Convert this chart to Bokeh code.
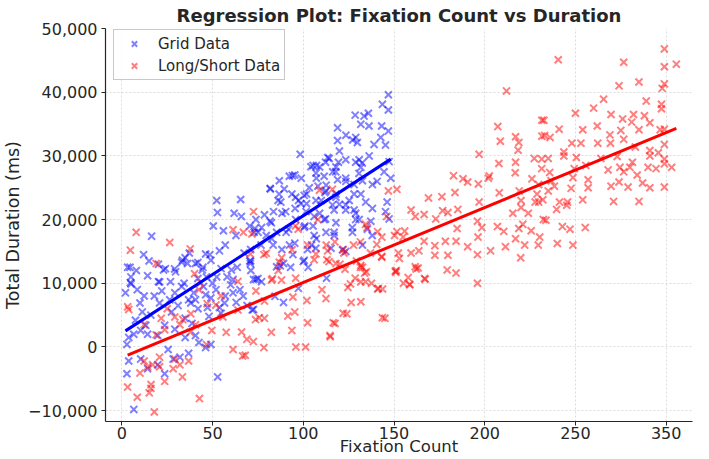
import numpy as np
from bokeh.plotting import figure
from bokeh.models import Range1d, FixedTicker, CustomJSTickFormatter
from bokeh.embed import file_html
from bokeh.resources import INLINE

# Grid condition: fixation count vs total duration (ms)
grid_count = [
    4.5, 5.1, 16.4, 20.2, 23.0, 29.1, 33.4, 37.2, 36.2, 41.9,
    44.7, 48.5, 52.3, 52.7, 50.4, 56.0, 57.0, 65.5, 65.9, 61.9,
    62.9, 70.5, 73.3, 75.1, 77.0, 67.4, 63.6, 71.1, 70.5, 75.0,
    77.0, 60.0, 52.3, 46.6, 41.9, 34.3, 26.8, 20.2, 82.6, 81.7,
    83.6, 88.3, 86.1, 86.8, 81.7, 93.7, 94.0, 98.3, 98.9, 97.4,
    95.5, 101.8, 101.8, 100.9, 90.5, 92.4, 94.3, 87.3, 93.0, 100.0,
    104.5, 107.2, 105.4, 109.0, 112.3, 109.9, 108.1, 107.2, 109.0, 112.3,
    105.4, 118.0, 113.5, 118.9, 118.0, 117.0, 119.9, 118.0, 117.0, 121.6,
    127.0, 128.9, 128.0, 125.3, 128.0, 123.5, 130.7, 119.9, 118.9, 123.5,
    127.2, 129.8, 128.6, 133.5, 128.9, 132.5, 116.2, 112.6, 111.9, 102.7,
    3.2, 4.7, 14.2, 20.8, 24.0, 29.6, 33.0, 34.9, 40.6, 44.3,
    46.2, 49.1, 53.8, 54.7, 60.4, 61.3, 70.8, 8.5, 12.3, 10.0,
    17.9, 20.8, 26.4, 29.2, 27.4, 36.8, 40.6, 39.6, 46.2, 49.1,
    51.9, 47.2, 53.8, 56.6, 61.3, 65.1, 66.9, 72.6, 69.0, 72.6,
    3.8, 2.8, 6.6, 10.4, 14.2, 19.8, 23.6, 29.2, 34.9, 40.6,
    42.5, 46.2, 49.1, 36.8, 32.0, 28.3, 25.5, 23.6, 19.8, 2.8,
    3.8, 14.2, 10.4, 6.6, 52.8, 54.7, 11.3, 16.0, 7.5, 13.2,
    34.9, 38.7, 38.0, 42.0, 45.0, 50.0, 57.0, 58.0, 33.0, 31.0,
    48.0, 63.0, 2.0, 5.0, 8.0,
    15.0, 12.0, 22.0, 71.0, 73.9, 85.3, 89.1, 100.5, 89.1,
    71.9, 84.4, 112.8, 97.3,
    146.9, 143.6, 146.9, 135.9, 136.2, 131.7, 128.9, 118.9, 142.7, 146.9,
    143.2, 145.3, 139.0, 114.3, 107.3, 104.2, 119.4, 123.4, 130.8, 131.7,
    136.3, 147.3, 144.5, 148.2, 138.1, 140.7, 132.6, 123.4, 117.9, 111.5,
    107.0, 103.3, 95.3, 92.3, 89.5, 86.7, 81.9, 87.6, 95.8, 100.5,
    107.0, 112.5, 118.0, 116.1, 123.4, 128.0, 131.7, 134.4, 128.9, 138.1,
    145.3, 146.2, 147.3, 137.2, 135.3, 130.8, 123.4, 111.5, 106.0, 101.5,
    95.8, 90.3, 82.4, 78.6, 73.9, 72.9, 79.6, 85.3, 91.9, 100.5,
    106.0, 112.5, 117.0, 127.1, 132.6, 123.4, 115.3, 106.9, 102.4, 95.3,
    88.2, 83.4, 76.7, 71.0, 138.0, 98.7,
]
grid_duration = [
    12500, 9900, 17400, 13000, 12100, 12250, 13600, 14750, 13100, 13250,
    12500, 14500, 23000, 21100, 19000, 18250, 16000, 23150, 20500, 21000,
    17500, 19000, 18600, 18000, 18750, 14750, 12500, 12000, 13500, 10750,
    10250, 9750, 11000, 11000, 10750, 10000, 10250, 10250, 17000, 19750,
    21250, 21000, 23000, 26100, 24900, 24000, 26900, 30250, 26500, 23000,
    21750, 24000, 22500, 19000, 18000, 16000, 14500, 12750, 12500, 13400,
    16000, 17000, 19000, 21000, 20100, 23000, 25250, 26500, 28250, 29000,
    28500, 28250, 29750, 26250, 23500, 21500, 22400, 19500, 18000, 15250,
    18750, 20000, 21500, 23000, 25500, 26000, 27250, 30750, 34400, 33250,
    32500, 32100, 36400, 36250, 29000, 28900, 27500, 25400, 24250, 12500,
    12500, 10100, 11200, 10200, 12300, 11800, 13300, 14000, 13100, 12100,
    14600, 13600, 15100, 12300, 12100, 10600, 13100, 9000, 8000, 6900,
    8000, 6900, 7400, 8500, 5500, 7400, 7400, 8500, 8200, 7700,
    9000, 6200, 6200, 6900, 8500, 9000, 8000, 10600, 6500, 5900,
    1500, 400, 2000, 2600, 2000, 1800, 3400, 2800, 1500, 1800,
    700, -100, 400, -1000, -1600, -1900, -400, -4200, -2800, -4200,
    -2200, -3400, -1900, -9800, -4700, 5300, 5500, 5000, 4200, 3400,
    4500, 3700, 6900, 6000, 9500, 10000, 8000, 11000, 9500, 6500,
    4800, 7000, 8500, 11000, 12000,
    13500, 14500, 8800, 13500, 10600, 12600, 13100, 13600, 7000,
    5800, 7950, 10800, 9200,
    39600, 38100, 37200, 36700, 34700, 34950, 32900, 32400, 32900, 33900,
    34700, 31700, 31800, 29600, 28500, 28300, 29000, 29400, 29400, 28200,
    30000, 29100, 27500, 26500, 25500, 26000, 26100, 26500, 27500, 26800,
    27300, 25000, 27000, 26800, 24800, 24000, 24800, 22750, 23500, 23800,
    23000, 24500, 24000, 22300, 22300, 24000, 24000, 22750, 21000, 21750,
    21250, 22750, 20100, 19750, 18500, 20000, 21500, 20000, 20500, 21250,
    20000, 21250, 19500, 20750, 20000, 18000, 17500, 18000, 18500, 18800,
    17500, 18000, 17500, 18000, 16000, 15000, 15500, 15500, 15300, 16300,
    15300, 16000, 16000, 15300, 17500, 22500,
]

# Long/Short condition
ls_count = [
    299.0, 305.6, 299.0, 299.0, 297.8, 240.5, 276.6, 274.0, 285.0, 289.0,
    265.5, 260.0, 269.6, 250.0, 297.4, 297.4, 282.0, 288.0, 276.0, 281.0,
    291.0, 232.6, 262.0, 285.0, 275.0, 296.7, 299.0, 254.0, 241.0, 233.0,
    236.0, 269.0, 276.6, 299.0, 248.0, 253.0, 262.3, 269.3, 243.6, 243.6,
    250.5, 235.0, 264.0, 273.0, 283.0, 291.0, 291.0, 295.7, 299.0, 299.0,
    303.0, 294.4, 290.0, 281.4, 280.0, 274.5, 268.0, 276.6, 231.4, 231.4,
    235.8, 249.3, 255.7, 248.6, 284.0, 257.0, 236.6, 287.0, 274.0, 269.6,
    279.0, 291.0, 299.0, 257.0, 247.6, 238.4, 235.0, 229.7, 229.7, 228.8,
    245.6, 241.2, 245.2, 254.0, 271.0, 285.0, 239.6, 233.7, 242.8, 247.0,
    255.4, 230.3, 229.5, 240.0, 248.6,
    212.0, 207.2, 208.6, 207.8, 217.0, 218.8, 218.4, 217.0, 216.8, 231.5,
    231.5, 227.3, 226.0, 196.9, 202.5, 202.0, 208.0, 219.0, 196.9, 220.0,
    220.0, 215.5, 224.0, 227.8, 232.0, 232.3, 196.0, 198.4, 207.0, 210.5,
    218.8, 221.0, 225.6, 217.0, 196.3, 222.0, 211.4, 203.2, 219.8, 196.0,
    190.6, 196.0, 182.8, 188.0, 190.6, 196.5, 183.6, 169.0, 176.4, 176.8,
    179.7, 185.2, 159.4, 161.7, 166.6, 173.0, 184.8, 151.6, 151.6, 155.9,
    153.0, 151.0, 159.4, 163.7, 166.6, 172.5, 172.5, 178.3, 184.2, 179.7,
    161.7, 163.3, 167.2, 158.6, 179.3, 184.2,
    146.0, 146.9, 135.1, 141.0, 131.5, 143.3, 150.3, 155.0, 152.4, 150.7,
    143.3, 137.0, 140.5, 133.8, 131.5, 134.3, 141.0, 158.7, 166.8, 162.2,
    129.3, 137.6, 143.7, 155.2, 157.8, 145.0,
    79.6, 86.8, 83.0, 73.9, 78.6, 88.0, 95.8, 94.3, 91.5, 95.3,
    102.0, 102.4, 110.3, 112.5, 116.5, 114.9, 122.0, 126.4, 124.6, 128.6,
    131.7, 131.7, 132.6, 134.8, 123.0, 118.0, 113.0, 106.0, 107.0, 113.4,
    122.0, 143.2, 141.4, 143.6, 151.3, 78.3, 95.9, 82.4, 93.7, 78.6,
    75.7, 72.5, 68.9, 68.0, 73.7,
    4.7, 18.9, 3.2, 3.8, 12.3, 21.7, 29.2, 33.6, 40.6, 43.4,
    42.5, 54.7, 51.9, 55.7, 57.5, 49.6, 46.6, 37.7, 32.0, 23.6,
    18.9, 12.3, 14.2, 20.8, 20.8, 17.0, 28.3, 32.0, 29.2, 36.8,
    10.0, 3.2, 16.0, 15.1, 8.5, 33.4, 23.6, 42.8, 17.9, 61.3,
    66.6, 66.0, 64.0, 70.8, 64.0, 16.1, 25.0, 38.0, 47.0,
    7.9, 26.4, 37.7, 61.3, 72.6, 67.0, 71.7, 88.1, 93.8, 97.2,
    95.7, 108.0, 108.9, 116.0, 102.3, 112.6, 117.4, 114.2, 120.2, 127.7,
    122.4, 134.3, 86.2, 78.3, 82.5, 40.1, 101.3, 117.5, 114.7, 124.0,
    126.0, 131.7,
]
ls_duration = [
    46800, 44400, 44000, 41300, 40600, 45100, 44700, 41000, 41600, 38600,
    38900, 37500, 36500, 36700, 38100, 37400, 36500, 36300, 35800, 35300,
    35200, 35600, 34700, 34100, 34000, 34100, 34200, 34100, 34200, 33200,
    32900, 33300, 32600, 31800, 32000, 32000, 32000, 32000, 30600, 30000,
    29750, 29600, 29600, 29900, 31400, 30850, 30000, 30500, 29500, 28750,
    28200, 28000, 28200, 29000, 28200, 28200, 27800, 27500, 29500, 28000,
    27400, 28000, 28500, 26600, 27000, 26250, 26100, 25750, 25900, 25250,
    25100, 25000, 25100, 25000, 24900, 25250, 24500, 25500, 22750, 24000,
    22750, 22750, 22250, 23100, 22850, 22850, 21600, 19900, 18900, 18500,
    18750, 17250, 16000, 16250, 16000,
    40200, 34600, 32300, 28800, 33000, 32100, 30900, 29000, 27350, 35600,
    33100, 29600, 26400, 30250, 26850, 26500, 24200, 24500, 22750, 23000,
    21900, 21000, 21000, 22750, 23100, 20000, 19750, 18750, 18900, 18150,
    18600, 19250, 18250, 17000, 17250, 16000, 15750, 15100, 14000, 14500,
    15750, 10000, 26900, 26400, 25900, 25600, 24250, 23400, 23600, 21400,
    21100, 21600, 21500, 20500, 20800, 20100, 18600, 24750, 18100, 18200,
    13900, 11750, 14750, 15100, 16600, 15900, 14400, 16600, 16600, 14400,
    12600, 12400, 10650, 9850, 12100, 11600,
    20500, 24500, 18750, 18100, 16500, 17250, 17500, 17250, 14750, 11900,
    14100, 14750, 16100, 11600, 12500, 10250, 9100, 9750, 10750, 12250,
    13500, 10000, 9100, 10000, 10900, 4500,
    14700, 13300, 10700, 8800, 7200, 10500, 10800, 7850, 4850, 5500,
    7300, 3800, 9000, 7600, 3800, 1600, 5300, 7000, 9350, 10800,
    10200, 12800, 12500, 11800, 12200, 13100, 13700, 13700, 14600, 15100,
    15300, 14200, 9200, 4600, 12000, -100, 0, 2300, 2600, 4500,
    4600, 850, 1200, -1300, 4300,
    15200, 13100, 6300, 5900, 3500, 4500, 4700, 4300, 3500, 10100,
    9000, 8000, 6600, 4700, 2300, 2600, 400, 2300, 3500, 2700,
    1900, -2200, -3100, -1600, -3100, -2800, -3400, -2800, -1900, -2200,
    -4100, -6300, -6500, -7200, -7900, -4700, -5400, -8100, -10200, -400,
    -1400, 2350, 5800, 14600, 10300, -5900, 6000, 5200, 6800,
    18000, 16400, 15400, 18400, 21250, 18000, 17750, 14000, 15250, 18500,
    19000, 20000, 24600, 24750, 16000, 16000, 16500, 13400, 13000, 16000,
    14750, 19250, 12000, 14500, 10500, 11500, 0, 3700, 1800, 5200,
    9900, 7100,
]

x_ticks = [0, 50, 100, 150, 200, 250, 300]
x_tick_labels = {300: "350"}
y_ticks = [-10000, 0, 10000, 20000, 30000, 40000, 50000]

FONT = "DejaVu Sans"
INK = "#262626"

p = figure(
    width=709, height=459,
    x_range=Range1d(-9, 314.5), y_range=Range1d(-11700, 50000),
    output_backend="svg", toolbar_location=None,
    min_border_left=103, min_border_right=17,
    min_border_top=28, min_border_bottom=38,
    title="Regression Plot: Fixation Count vs Duration",
)
p.outline_line_color = None
p.background_fill_color = "white"
p.border_fill_color = "white"

p.title.align = "center"
p.title.text_font = FONT
p.title.text_font_size = "18px"
p.title.text_font_style = "bold"
p.title.text_color = INK
p.title.standoff = 5

# axes
p.xaxis.ticker = FixedTicker(ticks=x_ticks)
p.xaxis.major_label_overrides = x_tick_labels
p.yaxis.ticker = FixedTicker(ticks=y_ticks)
p.yaxis.formatter = CustomJSTickFormatter(
    code="return tick.toLocaleString('en-US').replace('-', '\\u2212');")
p.xaxis.axis_label = "Fixation Count"
p.yaxis.axis_label = "Total Duration (ms)"
for ax in (p.xaxis[0], p.yaxis[0]):
    ax.axis_line_color = INK
    ax.axis_line_width = 1.2
    ax.major_tick_line_color = INK
    ax.major_tick_out = 4
    ax.major_tick_in = 0
    ax.minor_tick_out = 0
    ax.minor_tick_in = 0
    ax.major_label_text_font = FONT
    ax.major_label_text_font_size = "16px"
    ax.major_label_text_color = INK
    ax.axis_label_text_font = FONT
    ax.axis_label_text_font_style = "normal"
    ax.axis_label_text_color = INK
p.xaxis.axis_label_text_font_size = "16.5px"
p.yaxis.axis_label_text_font_size = "17.5px"
p.xaxis.major_label_standoff = 1
p.xaxis.axis_label_standoff = -5
p.yaxis.major_label_standoff = 4
p.yaxis.axis_label_standoff = 2

p.grid.grid_line_color = "#dcdcdc"
p.grid.grid_line_dash = "2 2"
p.grid.grid_line_width = 1

# scatter clouds
p.scatter(grid_count, grid_duration, marker="x", size=10, line_width=2,
          line_color="blue", line_alpha=0.5, legend_label="Grid Data")
p.scatter(ls_count, ls_duration, marker="x", size=10, line_width=2,
          line_color="red", line_alpha=0.5, legend_label="Long/Short Data")

# least-squares fits over each group's range
for xs, ys, col in ((grid_count, grid_duration, "blue"),
                    (ls_count, ls_duration, "red")):
    xa, ya = np.asarray(xs), np.asarray(ys)
    slope, intercept = np.polyfit(xa, ya, 1)
    xl = np.array([xa.min(), xa.max()])
    p.line(xl, slope * xl + intercept, line_color=col, line_width=3)

leg = p.legend[0]
leg.location = (8, 341)
leg.label_text_font = FONT
leg.label_text_font_size = "15px"
leg.label_text_color = INK
leg.border_line_color = "#c8c8c8"
leg.border_line_alpha = 1.0
leg.border_line_width = 1
leg.background_fill_color = "white"
leg.background_fill_alpha = 0.85
leg.padding = 4
leg.spacing = 3
leg.label_height = 19
leg.glyph_height = 19
leg.glyph_width = 32
leg.label_standoff = 8
leg.margin = 0

open("out.html", "w").write(file_html(p, INLINE))
